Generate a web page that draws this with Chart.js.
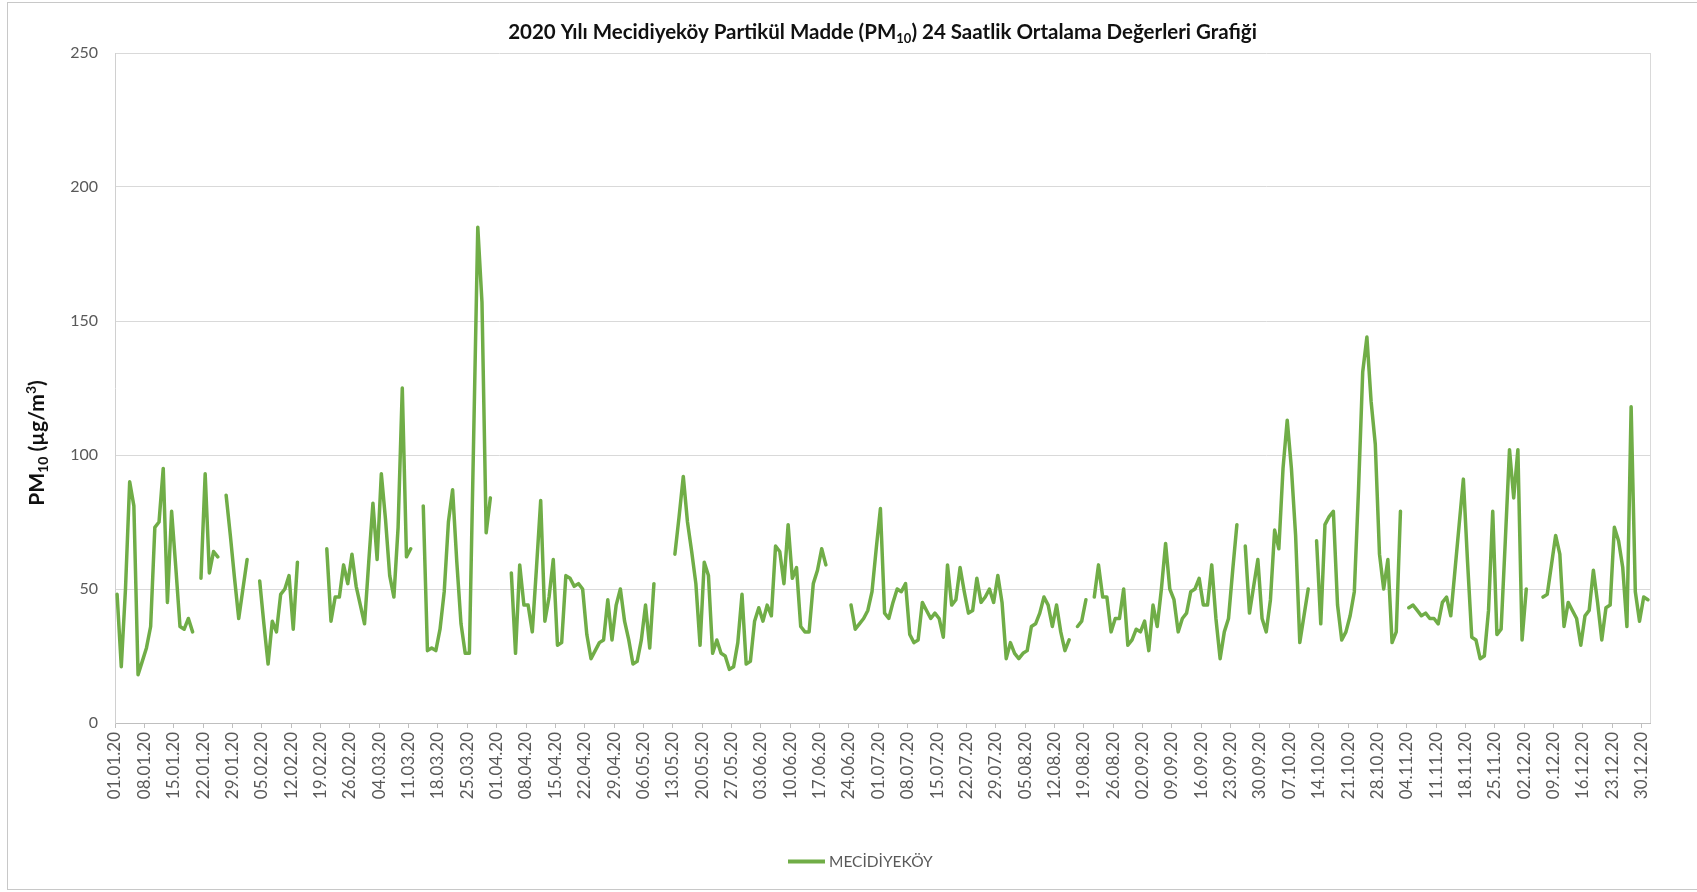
<!DOCTYPE html>
<html>
<head>
<meta charset="utf-8">
<script src="https://cdn.jsdelivr.net/npm/chart.js@4"></script>
<style>
  html, body { margin: 0; padding: 0; background: #fff; }
  #wrap { width: 1697px; height: 892px; position: relative; }
</style>
</head>
<body>
<div id="wrap"><canvas id="c"></canvas></div>
<script>
// Daily PM10 24-hour averages for 2020, one array per month (null = no measurement)
const jan = [48,21,50,90,81,18,23,28,36,73,75,95,45,79,58,36,35,39,34,null,54,93,56,64,62,null,85,70,54,39,50];
const feb = [61,null,null,53,37,22,38,34,48,50,55,35,60,null,null,null,null,null,null,65,38,47,47,59,52,63,51,44,37];
const mar = [60,82,61,93,76,55,47,73,125,62,65,null,null,81,27,28,27,35,49,75,87,60,37,26,26,105,185,157,71,84,null];
const apr = [null,null,null,56,26,59,44,44,34,58,83,38,47,61,29,30,55,54,51,52,50,33,24,27,30,31,46,31,44,50];
const may = [38,31,22,23,31,44,28,52,null,null,null,null,63,77,92,75,64,52,29,60,55,26,31,26,25,20,21,30,48,22,23];
const jun = [38,43,38,44,40,66,64,52,74,54,58,36,34,34,52,57,65,59,null,null,null,null,null,44,35,37,39,42,49,65];
const jul = [80,41,39,45,50,49,52,33,30,31,45,42,39,41,39,32,59,44,46,58,49,41,42,54,45,47,50,45,55,45,24];
const aug = [30,26,24,26,27,36,37,41,47,44,36,44,34,27,31,null,36,38,46,null,47,59,47,47,34,39,39,50,29,31,35];
const sep = [34,38,27,44,36,50,67,50,46,34,39,41,49,50,54,44,44,59,39,24,34,39,57,74,null,66,41,51,61,39];
const oct = [34,46,72,65,95,113,95,70,30,40,50,null,68,37,74,77,79,44,31,34,40,49,87,131,144,120,104,63,50,61,30];
const nov = [34,79,null,43,44,42,40,41,39,39,37,45,47,40,57,74,91,60,32,31,24,25,42,79,33,35,68,102,84,102];
const dec = [31,50,null,null,null,47,48,59,70,63,36,45,42,39,29,40,42,57,45,31,43,44,73,68,58,36,118,49,38,47,46];

// Weekly date labels on the x axis (every 7 days from 01.01.20)
const tickLabels = [
  '01.01.20','08.01.20','15.01.20','22.01.20','29.01.20','05.02.20','12.02.20','19.02.20','26.02.20',
  '04.03.20','11.03.20','18.03.20','25.03.20','01.04.20','08.04.20','15.04.20','22.04.20','29.04.20',
  '06.05.20','13.05.20','20.05.20','27.05.20','03.06.20','10.06.20','17.06.20','24.06.20','01.07.20',
  '08.07.20','15.07.20','22.07.20','29.07.20','05.08.20','12.08.20','19.08.20','26.08.20','02.09.20',
  '09.09.20','16.09.20','23.09.20','30.09.20','07.10.20','14.10.20','21.10.20','28.10.20','04.11.20',
  '11.11.20','18.11.20','25.11.20','02.12.20','09.12.20','16.12.20','23.12.20','30.12.20'
];
const yTicks = [0, 50, 100, 150, 200, 250];
const seriesName = 'MECİDİYEKÖY';

const daily = [].concat(jan, feb, mar, apr, may, jun, jul, aug, sep, oct, nov, dec);
const points = daily.map((v, i) => ({ x: i + 0.5, y: v }));

const GREEN = '#70AD47';
const FONT = 'Lato, "Open Sans", sans-serif';

// Draws a run of text pieces (with sub/superscripts) centred on x
function drawRich(ctx, parts, x, y) {
  let total = 0;
  parts.forEach(p => { ctx.font = p.font; p.w = ctx.measureText(p.t).width; total += p.w; });
  let cx = x - total / 2;
  ctx.textAlign = 'left';
  ctx.textBaseline = 'alphabetic';
  parts.forEach(p => { ctx.font = p.font; ctx.fillText(p.t, cx, y + (p.dy || 0)); cx += p.w; });
}

const decor = {
  id: 'decor',
  afterDraw(chart) {
    const ctx = chart.ctx;
    const a = chart.chartArea;
    ctx.save();

    // outer frame
    ctx.strokeStyle = '#c8c8c8';
    ctx.lineWidth = 1;
    ctx.strokeRect(7.5, 2.5, 1720, 887);

    // right edge of the plot area
    ctx.strokeStyle = '#d9d9d9';
    ctx.beginPath();
    ctx.moveTo(Math.round(a.right) + 0.5, a.top);
    ctx.lineTo(Math.round(a.right) + 0.5, a.bottom);
    ctx.stroke();

    // title
    ctx.fillStyle = '#111';
    const tb = 'bold 20.5px ' + FONT, ts = 'bold 13px ' + FONT;
    drawRich(ctx, [
      { t: '2020 Yılı Mecidiyeköy Partikül Madde (PM', font: tb },
      { t: '10', font: ts, dy: 4 },
      { t: ') 24 Saatlik Ortalama Değerleri Grafiği', font: tb }
    ], (a.left + a.right) / 2, 39);

    // y axis title
    ctx.save();
    ctx.translate(37, 443);
    ctx.rotate(-Math.PI / 2);
    const yb = 'bold 21px ' + FONT, ys = 'bold 14px ' + FONT;
    drawRich(ctx, [
      { t: 'PM', font: yb },
      { t: '10', font: ys, dy: 4 },
      { t: ' (µg/m', font: yb },
      { t: '3', font: ys, dy: -8 },
      { t: ')', font: yb }
    ], 0, 7);
    ctx.restore();

    // legend
    ctx.strokeStyle = GREEN;
    ctx.lineWidth = 4;
    ctx.beginPath();
    ctx.moveTo(788, 861.5);
    ctx.lineTo(825, 861.5);
    ctx.stroke();
    ctx.fillStyle = '#595959';
    ctx.font = '15.5px ' + FONT;
    ctx.textAlign = 'left';
    ctx.textBaseline = 'middle';
    ctx.fillText(seriesName, 829, 862);

    ctx.restore();
  }
};

new Chart(document.getElementById('c'), {
  type: 'line',
  data: {
    datasets: [{
      label: seriesName,
      data: points,
      borderColor: GREEN,
      backgroundColor: GREEN,
      borderWidth: 3.5,
      borderCapStyle: 'round',
      borderJoinStyle: 'round',
      pointRadius: 0,
      tension: 0,
      spanGaps: false
    }]
  },
  options: {
    responsive: true,
    maintainAspectRatio: false,
    animation: false,
    layout: { padding: { top: 53, right: 47, left: 0, bottom: 0 } },
    plugins: { legend: { display: false }, title: { display: false }, tooltip: { enabled: false } },
    scales: {
      x: {
        type: 'linear',
        min: 0,
        max: 366,
        afterBuildTicks: s => { s.ticks = tickLabels.map((_, k) => ({ value: k * 7 })); },
        afterFit: s => { s.height = 169; },
        grid: { drawOnChartArea: false, drawTicks: true, tickLength: 5, color: '#bfbfbf' },
        border: { display: true, color: '#bfbfbf' },
        ticks: {
          autoSkip: false, maxRotation: 90, minRotation: 90, padding: 4,
          color: '#595959', font: { family: FONT, size: 17 },
          callback: (v, i) => tickLabels[i]
        }
      },
      y: {
        min: 0,
        max: 250,
        afterBuildTicks: s => { s.ticks = yTicks.map(v => ({ value: v })); },
        afterFit: s => { s.width = 115; },
        grid: { color: '#d9d9d9', drawTicks: false },
        border: { display: true, color: '#d0d0d0' },
        ticks: { color: '#595959', font: { family: FONT, size: 16 }, padding: 17 }
      }
    }
  },
  plugins: [decor]
});
</script>
</body>
</html>
